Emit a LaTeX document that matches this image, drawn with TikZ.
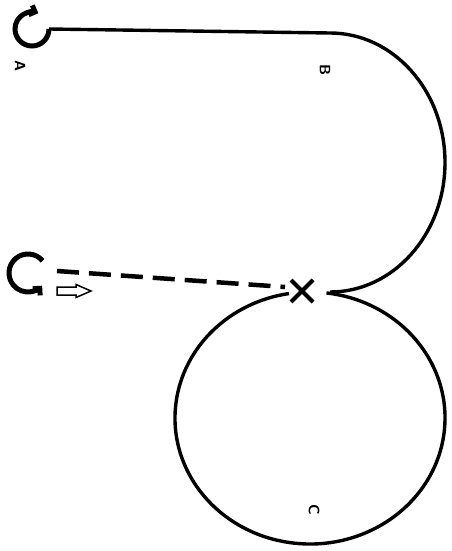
\documentclass[tikz,border=0pt]{standalone}
\usepackage{xcolor}
\usetikzlibrary{arrows.meta}
\usetikzlibrary{math}

\begin{document}
\begin{tikzpicture}[x=1pt,y=1pt]
\tikzmath{
\rx=115;
\ry=129.5;
\cx=135;
\cy=126;
}
\tikzset{
 track/.style={line width=3.4pt},
 ring/.style={line width=5pt, -{Straight Barb[length=5pt,width=10pt]}},
 lbl/.style={font=\fontsize{15}{15}\selectfont\bfseries\sffamily, rotate=-90, inner sep=0pt},
}
\useasboundingbox (0,0) rectangle (452,-551);

 %ring A
 \coordinate (RA) at (32,-29);
 \draw[ring] ([shift={(0:17)}]RA) arc[start angle=0, end angle=-292, radius=17];
 \node[lbl] (LA) at (20,-66) {A};

 %top line and big arc
 \coordinate (P1) at (49,-29);
 \coordinate (P2) at (330,-33);
 \draw[track] (P1) -- (P2) arc[start angle=90, end angle=-90, x radius=\rx, y radius=\ry];
 \node[lbl] (LB) at (325,-70) {B};

 %ring at dashed line
 \coordinate (RG) at (28,-273);
 \draw[ring] ([shift={(40:19)}]RG) arc[start angle=40, end angle=318, radius=19];

 %hollow arrow
 \draw[line width=1.5pt, line join=miter] (57,-287) -- (76,-287) -- (76,-284.5) -- (91,-291) -- (76,-297.5) -- (76,-295) -- (57,-295) -- cycle;

 %dashed line to X
 \coordinate (D1) at (57,-271);
 \coordinate (D2) at (285,-287);
 \draw[line width=4.5pt, dash pattern=on 22pt off 10pt] (D1) -- (D2);

 %X
 \coordinate (XC) at (302,-291);
 \draw[line width=4pt] ([shift={(-11,11)}]XC) -- ([shift={(11,-11)}]XC);
 \draw[line width=4pt] ([shift={(-11,-11)}]XC) -- ([shift={(11,11)}]XC);

 %lower loop
 \coordinate (C0) at (310,-418);
 \draw[track] ([shift={(83:\cx pt and \cy pt)}]C0) arc[start angle=83, end angle=-261, x radius=\cx, y radius=\cy];
 \node[lbl] (LC) at (314,-510) {C};

\end{tikzpicture}
\end{document}
